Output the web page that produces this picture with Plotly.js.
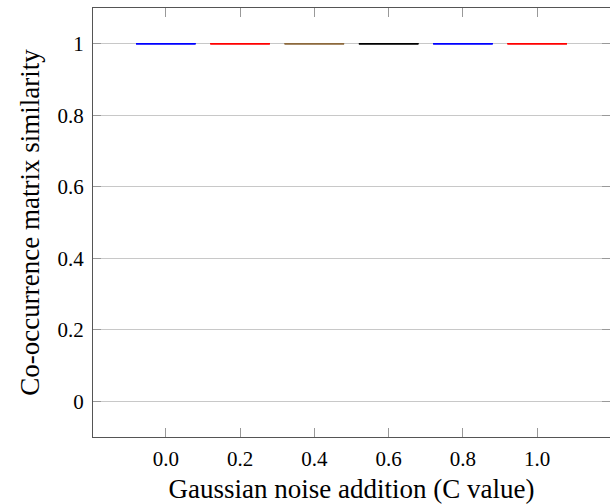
<!DOCTYPE html>
<html>
<head>
<meta charset="utf-8">
<script src="https://cdn.plot.ly/plotly-3.0.1.min.js"></script>
<style>html,body{margin:0;padding:0;background:#fff;}#chart{width:610px;height:504px;}</style>
</head>
<body>
<div id="chart"></div>
<script>
const categories = ["0.0", "0.2", "0.4", "0.6", "0.8", "1.0"];
const medians = [1, 1, 1, 1, 1, 1];
const q1s = [1, 1, 1, 1, 1, 1];
const q3s = [1, 1, 1, 1, 1, 1];
const lowers = [1, 1, 1, 1, 1, 1];
const uppers = [1, 1, 1, 1, 1, 1];
const colors = ["#0000ff", "#ff0000", "#8c6a3c", "#000000", "#0000ff", "#ff0000"];
const yTickVals = [0, 0.2, 0.4, 0.6, 0.8, 1];
const yTickText = ["0", "0.2", "0.4", "0.6", "0.8", "1"];

const traces = categories.map((c, i) => ({
  type: "box",
  x: [i],
  q1: [q1s[i]], median: [medians[i]], q3: [q3s[i]],
  lowerfence: [lowers[i]], upperfence: [uppers[i]],
  width: 0.8,
  line: {color: colors[i], width: 1},
  fillcolor: "rgba(0,0,0,0)",
  whiskerwidth: 1,
  boxpoints: false,
  hoverinfo: "skip",
  showlegend: false
}));

const font = {family: "Liberation Serif, Times New Roman, serif", color: "#000"};
const layout = {
  width: 610, height: 504,
  margin: {l: 93, r: 0, t: 8, b: 67},
  paper_bgcolor: "#fff", plot_bgcolor: "#fff",
  font: Object.assign({size: 21}, font),
  xaxis: {
    range: [-0.98, 5.98],
    tickvals: categories.map((c, i) => i),
    ticktext: categories,
    ticks: "inside", ticklen: 9, tickcolor: "#999", tickwidth: 1,
    showline: true, linecolor: "#555", linewidth: 1, mirror: "ticks",
    showgrid: false, zeroline: false,
    ticklabelstandoff: 3,
    tickfont: Object.assign({size: 21}, font),
    title: {text: "Gaussian noise addition (C value)", font: Object.assign({size: 27}, font), standoff: 8}
  },
  yaxis: {
    range: [-0.1, 1.1],
    tickvals: yTickVals, ticktext: yTickText,
    ticks: "inside", ticklen: 8, tickcolor: "#999", tickwidth: 1,
    showline: true, linecolor: "#555", linewidth: 1, mirror: "ticks",
    showgrid: true, gridcolor: "#c8c8c8", gridwidth: 1, zeroline: false,
    ticklabelstandoff: 4,
    tickfont: Object.assign({size: 21}, font),
    title: {text: "Co-occurrence matrix similarity", font: Object.assign({size: 27}, font), standoff: 10}
  }
};
Plotly.newPlot("chart", traces, layout, {displayModeBar: false, staticPlot: true});
</script>
</body>
</html>
